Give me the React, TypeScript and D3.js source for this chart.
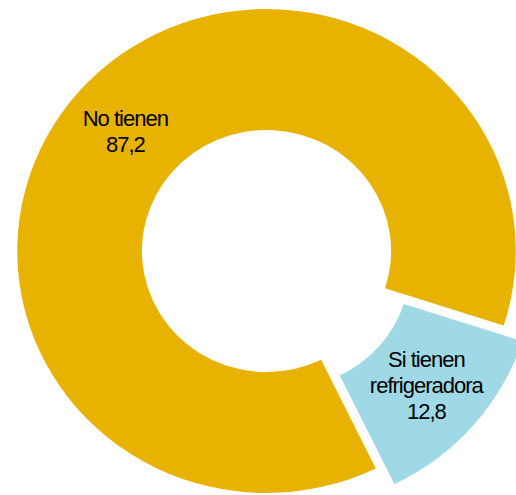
import React from "react";
import * as d3 from "d3";

const categories = ["No tienen", "Si tienen refrigeradora"];
const labelLines = [["No tienen"], ["Si tienen", "refrigeradora"]];
const values = [87.2, 12.8];
const valueLabels = ["87,2", "12,8"];
const colors = ["#E8B200", "#A0D9E6"];
const exploded = [false, true];

export default function App() {
  const W = 516, H = 495;
  const cx = 266.5, cy = 251;
  const sx = 1.03;
  const outerR = 242, innerR = 121;
  const explode = 24;
  const lineH = 26;

  const pie = d3
    .pie<number>()
    .sort(null)
    .value((d) => d)
    .startAngle((154 * Math.PI) / 180)
    .endAngle((154 * Math.PI) / 180 + 2 * Math.PI);
  const arcs = pie(values);
  const arc = d3.arc<d3.PieArcDatum<number>>().innerRadius(innerR).outerRadius(outerR);

  return (
    <svg width={W} height={H} style={{ position: "absolute", left: 0, top: 0, background: "#fff" }}>
      <g transform={`translate(${cx},${cy}) scale(${sx},1)`}>
        {arcs.map((a, i) => {
          const mid = (a.startAngle + a.endAngle) / 2;
          const off = exploded[i] ? explode : 0;
          const dx = Math.sin(mid) * off;
          const dy = -Math.cos(mid) * off;
          return (
            <path key={categories[i]} d={arc(a) || ""} fill={colors[i]} transform={`translate(${dx},${dy})`} />
          );
        })}
      </g>
      {arcs.map((a, i) => {
        const mid = (a.startAngle + a.endAngle) / 2;
        const off = exploded[i] ? explode : 0;
        const [px, py] = arc.centroid(a);
        const x = cx + (px + Math.sin(mid) * off) * sx;
        const y = cy + py - Math.cos(mid) * off;
        const lines = [...labelLines[i], valueLabels[i]];
        const n = lines.length;
        const firstBaseline = y - ((n - 1) * lineH) / 2 + 7;
        return (
          <text
            key={"l" + i}
            x={x}
            textAnchor="middle"
            fontFamily="'Liberation Sans', Arial, sans-serif"
            fontSize={22}
            letterSpacing={-1}
            fill="#000"
          >
            {lines.map((t, j) => (
              <tspan key={j} x={x} y={firstBaseline + j * lineH}>
                {t}
              </tspan>
            ))}
          </text>
        );
      })}
    </svg>
  );
}
